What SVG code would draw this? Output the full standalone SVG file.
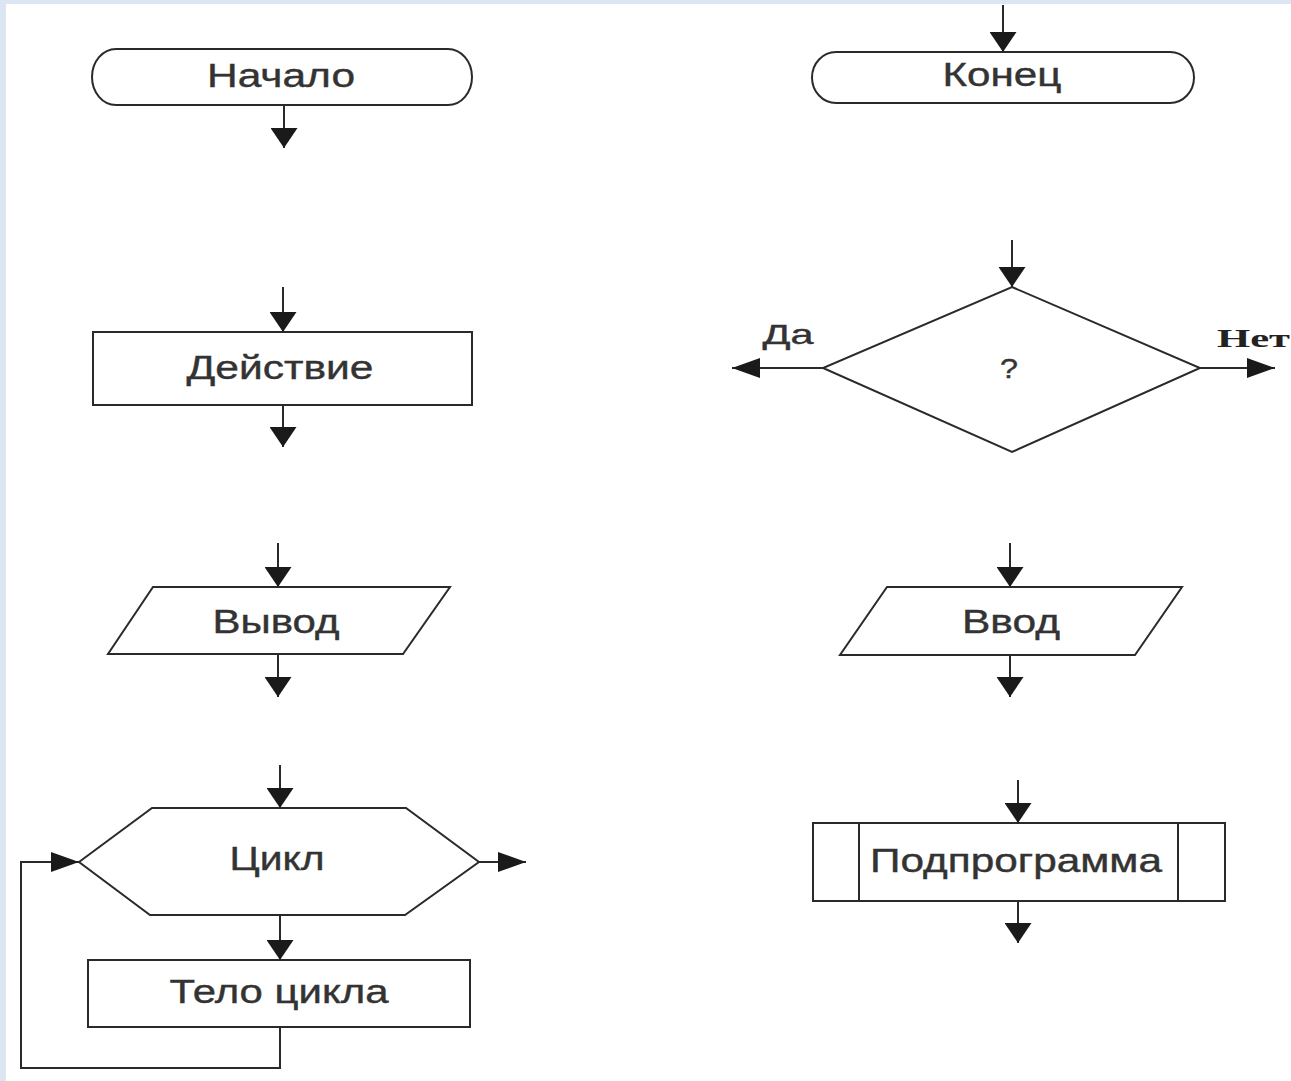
<svg xmlns="http://www.w3.org/2000/svg" width="1291" height="1081" viewBox="0 0 1291 1081">
  <style>
    .shape { fill: #ffffff; stroke: #2a2a2a; stroke-width: 2; }
    .conn { fill: none; stroke: #2a2a2a; stroke-width: 2; }
    .lbl { font-family: "Liberation Sans", Arial, sans-serif; font-size: 33px; fill: #333333; text-anchor: middle; stroke: #333333; stroke-width: 0.4; }
    .bold { font-family: "Liberation Serif", "Times New Roman", serif; font-weight: bold; font-size: 25px; fill: #222222; }
  </style>
  <defs>
    <marker id="av" viewBox="0 0 20 27" refX="20" refY="13.5" markerWidth="20" markerHeight="27" markerUnits="userSpaceOnUse" orient="auto">
      <path d="M0,0 L20,13.5 L0,27 z" fill="#1a1a1a"/>
    </marker>
    <marker id="ah" viewBox="0 0 28 20" refX="28" refY="10" markerWidth="28" markerHeight="20" markerUnits="userSpaceOnUse" orient="auto">
      <path d="M0,0 L28,10 L0,20 z" fill="#1a1a1a"/>
    </marker>
  </defs>

  <rect x="0" y="0" width="1291" height="1081" fill="#dbe6f2"/>
  <rect x="6" y="4" width="1285" height="1077" fill="#ffffff"/>

  <g id="node-nachalo">
    <rect class="shape" x="92" y="49" width="380" height="56" rx="24" ry="28"/>
    <text class="lbl" x="281" y="87" textLength="148" lengthAdjust="spacingAndGlyphs">Начало</text>
  </g>
  <g id="node-konec">
    <rect class="shape" x="812" y="52" width="382" height="51" rx="24" ry="25.5"/>
    <text class="lbl" x="1002" y="86" textLength="119" lengthAdjust="spacingAndGlyphs">Конец</text>
  </g>
  <g id="node-deystvie">
    <rect class="shape" x="93" y="332" width="379" height="73"/>
    <text class="lbl" x="280" y="379" textLength="187" lengthAdjust="spacingAndGlyphs">Действие</text>
  </g>
  <g id="node-decision">
    <polygon class="shape" points="1012,287 1200,368 1012,452 823,368"/>
    <text class="lbl" x="1009" y="378" style="font-size:28px" textLength="18" lengthAdjust="spacingAndGlyphs">?</text>
  </g>
  <g id="node-vyvod">
    <polygon class="shape" points="153,587 450,587 403,654 108,654"/>
    <text class="lbl" x="276" y="633" textLength="127" lengthAdjust="spacingAndGlyphs">Вывод</text>
  </g>
  <g id="node-vvod">
    <polygon class="shape" points="887,587 1182,587 1135,655 840,655"/>
    <text class="lbl" x="1011" y="633" textLength="98" lengthAdjust="spacingAndGlyphs">Ввод</text>
  </g>
  <g id="node-cikl">
    <polygon class="shape" points="79,862 152,808 406,808 479,862 405,915 150,915"/>
    <text class="lbl" x="277" y="870" textLength="95" lengthAdjust="spacingAndGlyphs">Цикл</text>
  </g>
  <g id="node-telo">
    <rect class="shape" x="88" y="960" width="382" height="67"/>
    <text class="lbl" x="279" y="1003" textLength="219" lengthAdjust="spacingAndGlyphs">Тело цикла</text>
  </g>
  <g id="node-podprogramma">
    <rect class="shape" x="813" y="823" width="412" height="78"/>
    <line class="conn" x1="859" y1="823" x2="859" y2="901"/>
    <line class="conn" x1="1178" y1="823" x2="1178" y2="901"/>
    <text class="lbl" x="1016" y="872" textLength="292" lengthAdjust="spacingAndGlyphs">Подпрограмма</text>
  </g>

  <g id="connectors">
    <line class="conn" x1="284" y1="105" x2="284" y2="148" marker-end="url(#av)"/>
    <line class="conn" x1="1003" y1="5" x2="1003" y2="52" marker-end="url(#av)"/>
    <line class="conn" x1="283" y1="287" x2="283" y2="332" marker-end="url(#av)"/>
    <line class="conn" x1="283" y1="405" x2="283" y2="447" marker-end="url(#av)"/>
    <line class="conn" x1="1012" y1="240" x2="1012" y2="287" marker-end="url(#av)"/>
    <line class="conn" x1="823" y1="368" x2="732" y2="368" marker-end="url(#ah)"/>
    <line class="conn" x1="1200" y1="368" x2="1275" y2="368" marker-end="url(#ah)"/>
    <line class="conn" x1="278" y1="543" x2="278" y2="587" marker-end="url(#av)"/>
    <line class="conn" x1="278" y1="654" x2="278" y2="697" marker-end="url(#av)"/>
    <line class="conn" x1="1010" y1="543" x2="1010" y2="587" marker-end="url(#av)"/>
    <line class="conn" x1="1010" y1="655" x2="1010" y2="697" marker-end="url(#av)"/>
    <line class="conn" x1="280" y1="765" x2="280" y2="808" marker-end="url(#av)"/>
    <line class="conn" x1="280" y1="915" x2="280" y2="960" marker-end="url(#av)"/>
    <line class="conn" x1="479" y1="862" x2="526" y2="862" marker-end="url(#ah)"/>
    <polyline class="conn" points="280,1027 280,1068 21,1068 21,862 79,862" marker-end="url(#ah)"/>
    <line class="conn" x1="1018" y1="780" x2="1018" y2="823" marker-end="url(#av)"/>
    <line class="conn" x1="1018" y1="901" x2="1018" y2="943" marker-end="url(#av)"/>
    <text class="lbl" x="788" y="344" style="font-size:28px" textLength="51" lengthAdjust="spacingAndGlyphs">Да</text>
    <text class="bold" x="1217" y="347" textLength="73" lengthAdjust="spacingAndGlyphs">Нет</text>
  </g>
</svg>
